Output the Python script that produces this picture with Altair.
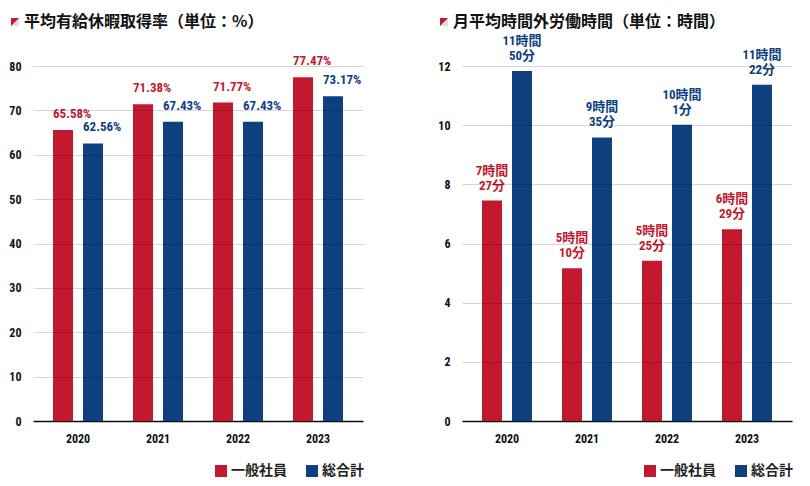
import altair as alt
import pandas as pd

# ---------------- data ----------------
years = ["2020", "2021", "2022", "2023"]
series = ["一般社員", "総合計"]
colors = ["#C2192F", "#0E3F7F"]

leave_general = [65.58, 71.38, 71.77, 77.47]
leave_total = [62.56, 67.43, 67.43, 73.17]

ot_general_hours = [7, 5, 5, 6]
ot_general_minutes = [27, 10, 25, 29]
ot_total_hours = [11, 9, 10, 11]
ot_total_minutes = [50, 35, 1, 22]

title_left = "平均有給休暇取得率（単位：%）"
title_right = "月平均時間外労働時間（単位：時間）"

# ---------------- tables ----------------
rows = []
for y, g, t in zip(years, leave_general, leave_total):
    rows.append({"year": y, "series": series[0], "value": g, "label": f"{g:.2f}%"})
    rows.append({"year": y, "series": series[1], "value": t, "label": f"{t:.2f}%"})
df_leave = pd.DataFrame(rows)

rows = []
for y, gh, gm, th, tm in zip(years, ot_general_hours, ot_general_minutes,
                             ot_total_hours, ot_total_minutes):
    rows.append({"year": y, "series": series[0], "value": gh + gm / 60,
                 "label": f"{gh}時間\n{gm}分"})
    rows.append({"year": y, "series": series[1], "value": th + tm / 60,
                 "label": f"{th}時間\n{tm}分"})
df_ot = pd.DataFrame(rows)

NUM_FONT = "Liberation Sans Narrow, Roboto Condensed, DejaVu Sans Condensed, Noto Sans CJK JP, sans-serif"
CJK_FONT = "Noto Sans CJK JP"

W, H = 330, 355
TY = -44  # title row position relative to plot top


def panel(df, ymax, ystep, title, multiline):
    x = alt.X("year:N", sort=years,
              scale=alt.Scale(paddingInner=0, paddingOuter=0.0625),
              axis=alt.Axis(title=None, labelAngle=0, ticks=False, grid=False,
                            domain=True, domainColor="#111", domainWidth=1.5,
                            labelFont=NUM_FONT, labelFontSize=12,
                            labelFontWeight="bold", labelColor="#111",
                            labelPadding=12))
    xo = alt.XOffset("series:N", sort=series,
                     scale=alt.Scale(paddingInner=1 / 3, paddingOuter=0.5))
    y = alt.Y("value:Q",
              scale=alt.Scale(domain=[0, ymax], nice=False, zero=True),
              axis=alt.Axis(title=None, values=list(range(0, ymax + 1, ystep)),
                            domain=False, ticks=False, grid=True,
                            gridColor="#000", gridOpacity=0.16, gridWidth=1,
                            labelFont=NUM_FONT, labelFontSize=12,
                            labelFontWeight="bold", labelColor="#111",
                            labelPadding=12, zindex=1))
    base = alt.Chart(df).encode(x=x, xOffset=xo, y=y)

    bars = base.mark_bar().encode(
        color=alt.Color("series:N", sort=series,
                        scale=alt.Scale(domain=series, range=colors),
                        legend=alt.Legend(title=None, orient="none",
                                          legendX=181, legendY=398,
                                          direction="horizontal",
                                          symbolType="square", symbolSize=144,
                                          symbolStrokeWidth=0,
                                          labelFont=CJK_FONT, labelFontSize=14,
                                          labelFontWeight="bold",
                                          labelColor="#222", labelOffset=3,
                                          columnPadding=18, padding=0))
    )
    if multiline:
        txt = base.mark_text(align="center", baseline="bottom", dy=-23,
                             lineBreak="\n", lineHeight=15, font=NUM_FONT,
                             fontSize=13, fontWeight="bold")
    else:
        txt = base.mark_text(align="left", baseline="alphabetic", dx=-10,
                             dy=-12, font=NUM_FONT, fontSize=13,
                             fontWeight="bold")
    labels = txt.encode(
        text="label:N",
        color=alt.Color("series:N", sort=series,
                        scale=alt.Scale(domain=series, range=colors),
                        legend=None))

    tdf = pd.DataFrame({"t": [title]})
    ttl = alt.Chart(tdf).mark_text(align="left", baseline="middle",
                                   font=CJK_FONT, fontSize=16,
                                   fontWeight="bold", color="#111").encode(
        x=alt.value(-9), y=alt.value(TY), text="t:N")
    mk_bg = alt.Chart(tdf).mark_point(shape="M1,-1L1,1L-1,1Z", filled=True,
                                      size=64, color="#DDDDDD", opacity=1,
                                      strokeWidth=0).encode(
        x=alt.value(-18), y=alt.value(TY))
    mk_fg = alt.Chart(tdf).mark_point(shape="M-1,-1L1,-1L-1,1Z", filled=True,
                                      size=64, color=colors[0], opacity=1,
                                      strokeWidth=0).encode(
        x=alt.value(-18), y=alt.value(TY))

    return alt.layer(bars, labels, ttl, mk_bg, mk_fg).properties(width=W, height=H)


left = panel(df_leave, 80, 10, title_left, False)
right = panel(df_ot, 12, 2, title_right, True)

chart = (
    alt.hconcat(left, right, spacing=73)
    .resolve_scale(color="independent")
    .resolve_legend(color="independent")
    .configure(padding={"left": 0, "top": 6, "right": 0, "bottom": 0})
    .configure_view(stroke=None)
)

chart.save("out.html", embed_options={"renderer": "svg", "actions": False})
